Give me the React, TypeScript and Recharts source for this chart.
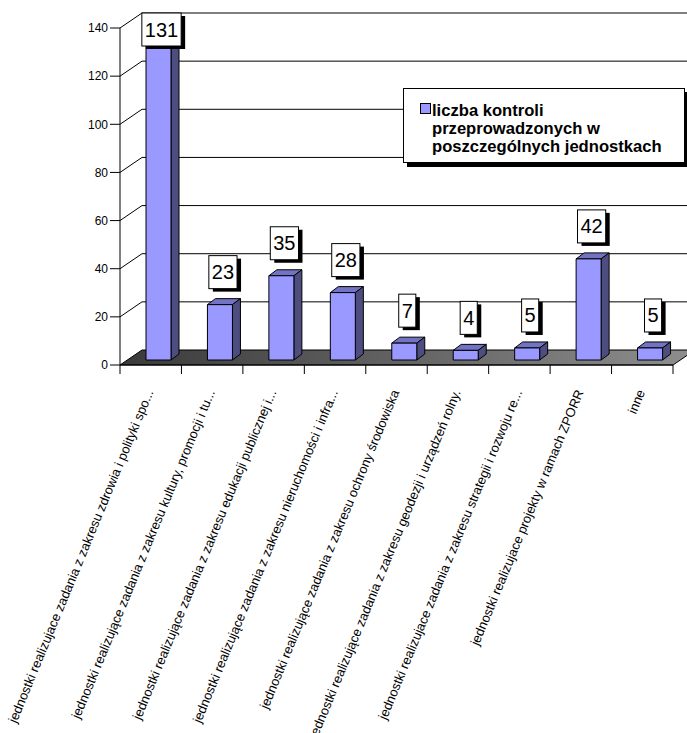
import { Bar, BarChart, CartesianGrid, LabelList, Legend, XAxis, YAxis } from "recharts";

// kontrole w jednostkach
const categories = [
  "jednostki realizujace zadania z zakresu zdrowia i polityki spo...",
  "jednostki realizujące zadania z zakresu kultury, promocji i tu...",
  "jednostki realizujące zadania z zakresu edukacji publicznej i...",
  "jednostki realizujące zadania z zakresu nieruchomości i infra...",
  "jednostki realizujące zadania z zakresu ochrony środowiska",
  "jednostki realizujące zadania z zakresu geodezji i urządzeń rolny.",
  "jednostki realizujace zadania z zakresu strategii i rozwoju re...",
  "jednostki realizujace projekty w ramach ZPORR",
  "inne",
];
const counts = [131, 23, 35, 28, 7, 4, 5, 42, 5];
const yTicks = [0, 20, 40, 60, 80, 100, 120, 140];
const legendLines = ["liczba kontroli", "przeprowadzonych w", "poszczególnych jednostkach"];

const data = categories.map((name, i) => ({ name, count: counts[i] }));

const FONT = "Arial, 'Liberation Sans', sans-serif";
const W = 687;
const H = 733;
const PLOT_LEFT = 120;
const PLOT_TOP = 28;
const PLOT_RIGHT = 673;
const PLOT_BOTTOM = 365;

// depth of the back wall / floor
const WALL_DX = 22;
const WALL_DY = -15;
// bars stand a bit behind the front edge
const BAR_DX = 8;
const BAR_DY = -5;
const BAR_DEPTH_X = 8;
const BAR_DEPTH_Y = -6;

const FRONT = "#9999ff";
const TOP = "#7373c4";
const SIDE = "#4d4d80";

const WallLine = (props: any) => {
  const { x1, y1, x2, index } = props;
  const bx = x1 + WALL_DX;
  const by = y1 + WALL_DY;
  if (Math.abs(y1 - PLOT_BOTTOM) < 1) {
    return (
      <g key={`wall-${index}`}>
        <defs>
          <linearGradient id="floorGrad" x1="0" y1="0" x2="1" y2="0">
            <stop offset="0%" stopColor="#3a3a3a" />
            <stop offset="100%" stopColor="#8e8e8e" />
          </linearGradient>
        </defs>
        <polygon
          points={`${x1},${y1} ${x2},${y1} ${x2 + WALL_DX},${by} ${bx},${by}`}
          fill="url(#floorGrad)"
          stroke="#000"
          strokeWidth={1}
        />
      </g>
    );
  }
  return (
    <g key={`wall-${index}`} stroke="#000" strokeWidth={1}>
      <line x1={x1} y1={y1} x2={bx} y2={by} />
      <line x1={bx} y1={by} x2={x2 + WALL_DX + 20} y2={by} />
    </g>
  );
};

const Bar3D = (props: any) => {
  const { x, y, width, height } = props;
  const fx = x + BAR_DX;
  const fy = y + BAR_DY;
  const r = fx + width;
  const b = fy + height;
  return (
    <g stroke="#000" strokeWidth={1} strokeLinejoin="round">
      <polygon
        points={`${fx},${fy} ${r},${fy} ${r + BAR_DEPTH_X},${fy + BAR_DEPTH_Y} ${fx + BAR_DEPTH_X},${fy + BAR_DEPTH_Y}`}
        fill={TOP}
      />
      <polygon
        points={`${r},${fy} ${r + BAR_DEPTH_X},${fy + BAR_DEPTH_Y} ${r + BAR_DEPTH_X},${b + BAR_DEPTH_Y} ${r},${b}`}
        fill={SIDE}
      />
      <rect x={fx} y={fy} width={width} height={height} fill={FRONT} />
    </g>
  );
};

const ValueBox = (props: any) => {
  const vb = props.viewBox || props;
  const { x, y, width } = vb;
  const text = String(props.value);
  const w = text.length * 11.1 + 6;
  const h = 33;
  const cx = x + width / 2 + 11;
  const top = Math.max(y + BAR_DY - 16 - h, 13);
  return (
    <g>
      <rect x={cx - w / 2 + 4} y={top + 3} width={w} height={h} fill="#000" />
      <rect x={cx - w / 2} y={top} width={w} height={h} fill="#fff" stroke="#000" strokeWidth={1} />
      <text x={cx} y={top + h / 2 + 7} textAnchor="middle" fontSize={20} fontFamily={FONT} fill="#000">
        {text}
      </text>
    </g>
  );
};

const CategoryTick = (props: any) => {
  const { x, payload, index } = props;
  const step = (PLOT_RIGHT - PLOT_LEFT) / categories.length;
  const left = x - step / 2;
  const tx = x + 3;
  const ty = 392;
  return (
    <g>
      <line x1={left} y1={PLOT_BOTTOM} x2={left} y2={PLOT_BOTTOM + 9} stroke="#000" />
      {index === categories.length - 1 && (
        <line x1={left + step} y1={PLOT_BOTTOM} x2={left + step} y2={PLOT_BOTTOM + 9} stroke="#000" />
      )}
      <text
        x={tx}
        y={ty}
        textAnchor="end"
        transform={`rotate(-67.5 ${tx} ${ty})`}
        fontSize={13}
        fontFamily={FONT}
        fill="#000"
      >
        {payload.value}
      </text>
    </g>
  );
};

const LegendBox = () => (
  <div
    style={{
      width: 282,
      height: 75,
      boxSizing: "border-box",
      border: "1px solid #000",
      background: "#fff",
      boxShadow: "4px 4px 0 #000",
      position: "relative",
      fontFamily: FONT,
      fontWeight: "bold",
      fontSize: 16.6,
      lineHeight: "18px",
      color: "#000",
    }}
  >
    <span
      style={{
        position: "absolute",
        left: 16,
        top: 14,
        width: 9,
        height: 9,
        background: FRONT,
        border: "1px solid #000",
      }}
    />
    <div style={{ position: "absolute", left: 28, top: 13, whiteSpace: "nowrap" }}>
      {legendLines.map((l) => (
        <div key={l}>{l}</div>
      ))}
    </div>
  </div>
);

export default function App() {
  return (
    <div style={{ position: "absolute", left: 0, top: 0, background: "#fff" }}>
      <BarChart
        width={W}
        height={H}
        data={data}
        barSize={25}
        margin={{ top: PLOT_TOP, right: W - PLOT_RIGHT, left: 0, bottom: 0 }}
        style={{ fontFamily: FONT }}
      >
        <CartesianGrid vertical={false} horizontal={WallLine} />
        <XAxis
          dataKey="name"
          height={H - PLOT_BOTTOM}
          interval={0}
          axisLine={{ stroke: "#000" }}
          tickLine={false}
          tick={<CategoryTick />}
        />
        <YAxis
          width={PLOT_LEFT}
          domain={[0, 140]}
          ticks={yTicks}
          interval={0}
          tickSize={10}
          axisLine={{ stroke: "#000" }}
          tickLine={{ stroke: "#000" }}
          tick={{ fill: "#000", fontSize: 12, fontFamily: FONT }}
        />
        <Legend
          layout="horizontal"
          verticalAlign="middle"
          align="center"
          content={LegendBox}
          wrapperStyle={{ left: 403, top: 88, width: 290 }}
        />
        <Bar dataKey="count" name={legendLines.join(" ")} shape={<Bar3D />} isAnimationActive={false}>
          <LabelList dataKey="count" content={<ValueBox />} />
        </Bar>
      </BarChart>
    </div>
  );
}
